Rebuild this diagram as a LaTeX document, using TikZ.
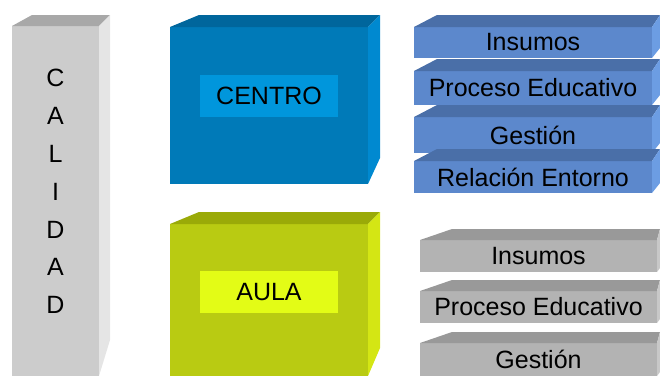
\documentclass[tikz,border=0pt]{standalone}
\usepackage{fontspec}
\setmainfont{Liberation Sans}
\usetikzlibrary{calc}
\definecolor{pilF}{HTML}{CCCCCC}
\definecolor{pilT}{HTML}{A8A8A8}
\definecolor{pilR}{HTML}{E5E5E5}
\definecolor{cenF}{HTML}{007AB8}
\definecolor{cenT}{HTML}{00669C}
\definecolor{cenR}{HTML}{0089D0}
\definecolor{cenL}{HTML}{0096DC}
\definecolor{aulF}{HTML}{B9CB12}
\definecolor{aulT}{HTML}{9AAA08}
\definecolor{aulR}{HTML}{D4E614}
\definecolor{aulL}{HTML}{E3FC16}
\definecolor{bluF}{HTML}{5C88CC}
\definecolor{bluT}{HTML}{4A6FA8}
\definecolor{bluR}{HTML}{6C9DE3}
\definecolor{gryF}{HTML}{B3B3B3}
\definecolor{gryT}{HTML}{999999}
\definecolor{gryR}{HTML}{C8C8C8}
\tikzset{
  txt/.style={font=\fontsize{25}{30}\selectfont, text=black},
  face/.style={draw=none, inner sep=0pt, outer sep=0pt, anchor=north west},
  bluebar/.style={face, txt, fill=bluF, minimum width=238pt},
  greybar/.style={face, txt, fill=gryF, minimum width=237pt},
  labelbox/.style={face, txt, minimum width=138pt, minimum height=42pt},
}
\begin{document}
\begin{tikzpicture}[x=1pt,y=-1pt]
\useasboundingbox (0,0) rectangle (660,376);
% CALIDAD pillar
\node[face, fill=pilF, minimum width=87pt, minimum height=350pt] (pil) at (12,26) {};
\fill[pilT] (pil.north west) -- ++(20,-11) -- ($(pil.north east)+(11,-11)$) -- (pil.north east) -- cycle;
\fill[pilR] (pil.north east) -- ++(11,-11) -- ($(pil.south east)+(11,-36)$) -- (pil.south east) -- cycle;
\node[txt, align=center, font=\fontsize{25}{37.8}\selectfont] (cal) at (55.5,191.5) {C\\A\\L\\I\\D\\A\\D};
% CENTRO box
\node[face, fill=cenF, minimum width=198pt, minimum height=157pt] (cen) at (170,27) {};
\fill[cenT] (cen.north west) -- ++(29,-12) -- ($(cen.north east)+(12,-12)$) -- (cen.north east) -- cycle;
\fill[cenR] (cen.north east) -- ++(12,-12) -- ($(cen.south east)+(12,-26)$) -- (cen.south east) -- cycle;
\node[labelbox, fill=cenL] (cenlab) at (200,75) {CENTRO};
% AULA box
\node[face, fill=aulF, minimum width=198pt, minimum height=152pt] (aul) at (170,224) {};
\fill[aulT] (aul.north west) -- ++(29,-12) -- ($(aul.north east)+(12,-12)$) -- (aul.north east) -- cycle;
\fill[aulR] (aul.north east) -- ++(12,-12) -- ($(aul.south east)+(12,-28)$) -- (aul.south east) -- cycle;
\node[labelbox, fill=aulL] (aullab) at (200,271) {AULA};
% blue bars
\foreach \n/\t/\h/\s in {b1/27/31/Insumos, b2/71/34/Proceso Educativo, b3/117/36/Gestión, b4/161/32/Relación Entorno}{
  \node[bluebar, minimum height=\h pt] (\n) at (414,\t) {\s};
  \fill[bluT] (\n.north west) -- ++(23,-12) -- ($(\n.north east)+(8,-12)$) -- (\n.north east) -- cycle;
  \fill[bluR] (\n.north east) -- ++(8,-12) -- ($(\n.south east)+(8,-10)$) -- (\n.south east) -- cycle;
}
% grey bars
\foreach \n/\t/\h/\s in {g1/240/32/Insumos, g2/291/32/Proceso Educativo, g3/343/33/Gestión}{
  \node[greybar, minimum height=\h pt] (\n) at (420,\t) {\s};
  \fill[gryT] (\n.north west) -- ++(32,-11) -- ($(\n.north east)+(3,-11)$) -- (\n.north east) -- cycle;
  \fill[gryR] (\n.north east) -- ++(3,-11) -- ($(\n.south east)+(3,-4)$) -- (\n.south east) -- cycle;
}
\end{tikzpicture}
\end{document}
